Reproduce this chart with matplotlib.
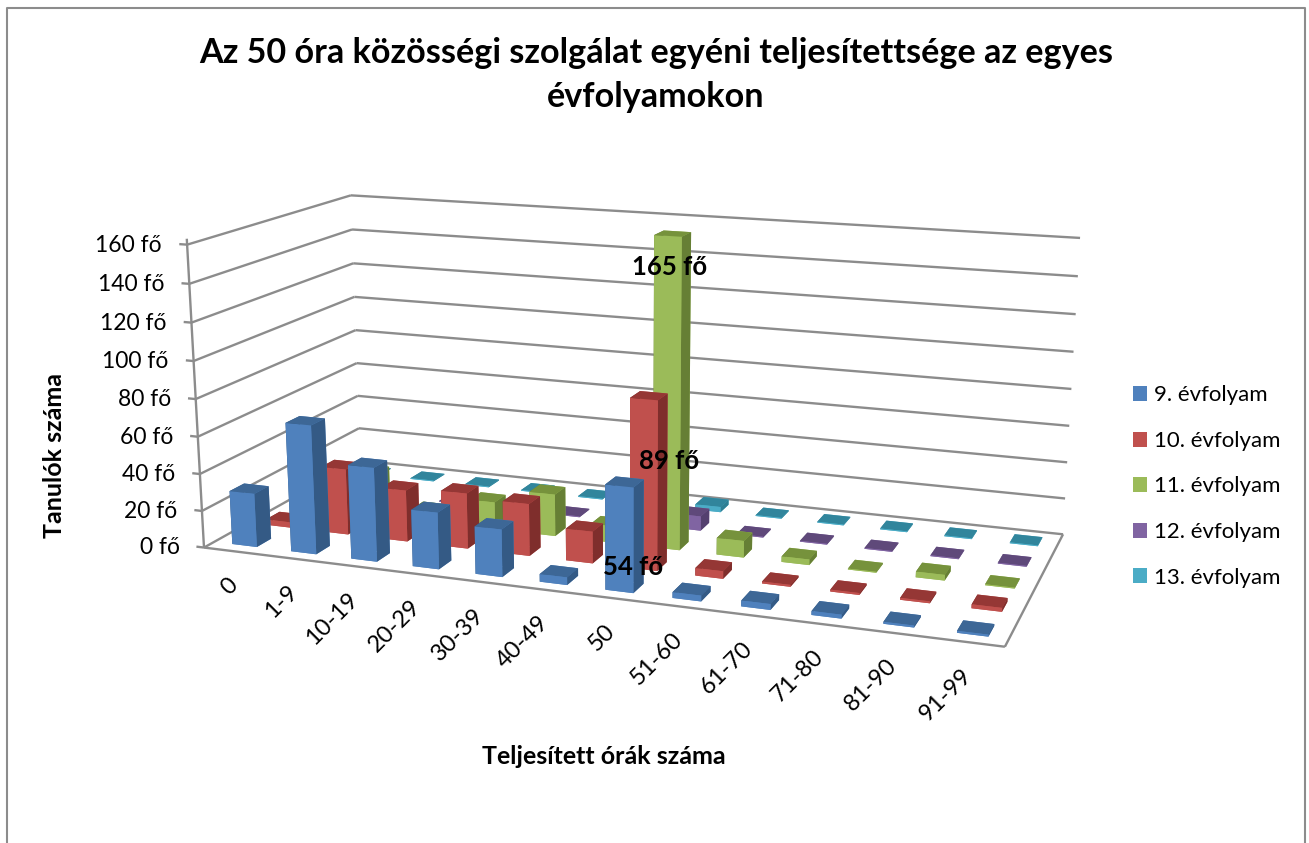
import numpy as np
import matplotlib
matplotlib.use("Agg")
import matplotlib.pyplot as plt
from matplotlib.lines import Line2D
from matplotlib.patches import Patch
from mpl_toolkits.mplot3d.art3d import Line3DCollection

plt.rcParams['font.family'] = ['Lato', 'DejaVu Sans']

W, H = 1309, 843

categories = ['0', '1-9', '10-19', '20-29', '30-39', '40-49', '50',
              '51-60', '61-70', '71-80', '81-90', '91-99']
series_names = ['9. évfolyam', '10. évfolyam', '11. évfolyam', '12. évfolyam', '13. évfolyam']

ev9  = [29, 69, 50, 30, 25, 4, 54, 3, 3, 2, 1, 1]
ev10 = [3, 36, 28, 30, 28, 17, 89, 4, 1, 1, 1, 2]
ev11 = [10, 24, 6, 15, 23, 9, 165, 9, 3, 0.5, 3, 0.5]
ev12 = [0.5, 0.5, 0.5, 0.5, 0.5, 0.5, 8, 0.5, 0.5, 0.5, 0.5, 0.5]
ev13 = [0.5, 0.5, 0.5, 0.5, 0.5, 0.5, 3, 0.5, 0.5, 0.5, 0.5, 0.5]
values = [ev9, ev10, ev11, ev12, ev13]

y_ticks = [0, 20, 40, 60, 80, 100, 120, 140, 160]

# elülső, felső, oldalsó lap színei
front = ['#4F81BD', '#C0504D', '#9BBB59', '#8064A2', '#4BACC6']
top   = ['#3D6796', '#953735', '#76923C', '#5F497A', '#31859C']
side  = ['#345A85', '#7F2E2C', '#667F35', '#54406F', '#2F7F94']

GRID = '#8C8C8C'
BAR_W = 0.42
BAR_D = 0.42
BAR_SHIFT = 0.02

X0, X1 = -0.5, len(categories) - 0.5
Y0, Y1 = -0.5, len(series_names) - 0.5
Z1 = 160

# kamera kalibrálás: a doboz sarkai -> képpont
calib = [
    ((X0, Y0, 0),  (204, 547)),
    ((X1, Y0, 0),  (1005, 647)),
    ((X1, Y1, 0),  (1063, 534)),
    ((X0, Y1, 0),  (360, 461)),
    ((X0, Y0, Z1), (187, 245)),
    ((X0, Y1, Z1), (351, 195)),
    ((X1, Y1, Z1), (1080, 238)),
]

def fit_camera(pairs):
    rows = []
    for (x, y, z), (u, v) in pairs:
        v = H - v
        rows.append([x, y, z, 1, 0, 0, 0, 0, -u*x, -u*y, -u*z, -u])
        rows.append([0, 0, 0, 0, x, y, z, 1, -v*x, -v*y, -v*z, -v])
    _, _, vt = np.linalg.svd(np.array(rows, dtype=float))
    return vt[-1].reshape(3, 4)

P = fit_camera(calib)

fig = plt.figure(figsize=(W/100, H/100), dpi=100)
ax = fig.add_axes([0, 0, 1, 1], projection='3d', computed_zorder=False)
ax.set_axis_off()
ax.patch.set_alpha(0)

def get_proj():
    to_view = ax.transData.inverted().get_affine().get_matrix()
    view = to_view @ P
    M = np.zeros((4, 4))
    M[0] = view[0]
    M[1] = view[1]
    M[3] = view[2]
    # mélység: hátsó, bal oldali és alsó lapok kerüljenek hátra
    M[2] = [-0.2, 1.0, -0.01, 0.0]
    return M

ax.get_proj = get_proj

def label3d(x, y, z, s, dx=0, dy=0, **kw):
    u, v, w = P @ np.array([x, y, z, 1.0])
    fig.text((u/w + dx)/W, (v/w + dy)/H, s, **kw)

segments = []
for v in y_ticks:
    segments.append([(X0, Y0, v), (X0, Y1, v)])
    segments.append([(X0, Y1, v), (X1, Y1, v)])
    segments.append([(X0 - 0.13, Y0, v), (X0, Y0, v)])
    label3d(X0 - 0.42, Y0, v, f'{v} fő', dy=-3, ha='right', va='center', fontsize=16.5)
segments.append([(X0, Y0, 0), (X0, Y0, Z1 + 3)])
segments.append([(X0, Y0, 0), (X1, Y0, 0)])
segments.append([(X1, Y0, 0), (X1, Y1, 0)])
grid = Line3DCollection(segments, colors=GRID, linewidths=1.7, zorder=1)
ax.add_collection3d(grid, autolim=False)
grid.set_clip_on(False)

for s in range(len(values) - 1, -1, -1):
    for c, val in enumerate(values[s]):
        bars = ax.bar3d(c - BAR_W/2 + BAR_SHIFT, s - BAR_D/2, 0, BAR_W, BAR_D, val,
                        color=[front[s], top[s], front[s], front[s], side[s], side[s]],
                        shade=False, linewidth=0, edgecolor='none',
                        zorder=10 + (4 - s)*20 + c)
        bars.set_clip_on(False)

for i, lab in enumerate(categories):
    label3d(i, Y0, 0, lab, dx=1, dy=-30, rotation=45, rotation_mode='anchor',
            ha='right', va='center', fontsize=17)

# adatfeliratok
label3d(6.15, 0, 11, '54 fő', ha='center', va='center', fontsize=18.5, fontweight='bold')
label3d(6.33, 1, 56, '89 fő', ha='center', va='center', fontsize=18.5, fontweight='bold')
label3d(5.97, 2, 148, '165 fő', ha='center', va='center', fontsize=18.5, fontweight='bold')

fig.text(656/W, 1 - 53/H, 'Az 50 óra közösségi szolgálat egyéni teljesítettsége az egyes',
         ha='center', va='center', fontsize=24.6, fontweight='bold')
fig.text(656/W, 1 - 97/H, 'évfolyamokon', ha='center', va='center', fontsize=24.6, fontweight='bold')
fig.text(55/W, 1 - 456/H, 'Tanulók száma', rotation=90, ha='center', va='center',
         fontsize=18, fontweight='bold')
fig.text(604/W, 1 - 756/H, 'Teljesített órák száma', ha='center', va='center',
         fontsize=18, fontweight='bold')

handles = [Patch(facecolor=c, edgecolor='none') for c in front]
fig.legend(handles, series_names, loc='center left', bbox_to_anchor=(1133/W, 1 - 486.5/H),
           frameon=False, fontsize=16, handlelength=0.65, handleheight=0.65,
           handletextpad=0.3, labelspacing=1.15, borderpad=0, borderaxespad=0)

# keret: alul nincs vonal
fig.add_artist(Line2D([7/W, 7/W, 1304.5/W, 1304.5/W], [0, 1 - 8/H, 1 - 8/H, 0],
                      transform=fig.transFigure, color=GRID, lw=1.5))

fig.savefig('out.png', dpi=100)
